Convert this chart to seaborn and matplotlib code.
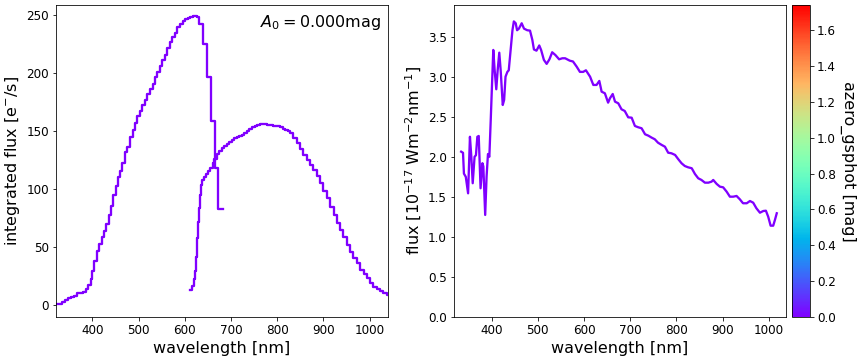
import numpy as np
import pandas as pd
import matplotlib
matplotlib.use("Agg")
import matplotlib.pyplot as plt
import seaborn as sns
from matplotlib.colors import Normalize
from matplotlib.cm import ScalarMappable

# ---------------- data ----------------
azero = 0.0
azero_max = 1.74

bp_edges = [321, 329, 334, 340, 347, 353, 360, 366, 373, 380,
            386, 391, 396, 400, 404, 409, 414, 420, 425, 430,
            435, 440, 445, 450, 455, 460, 465, 470, 475, 481,
            487, 492, 497, 503, 508, 514, 519, 524, 530, 535,
            540, 546, 551, 557, 562, 568, 573, 579, 584, 590,
            595, 600, 606, 611, 617, 622, 627, 630, 639, 647,
            656, 665, 672, 682]
bp_flux = [1.0, 1.5, 3.0, 5.0, 6.0, 7.0, 8.5, 10.3, 11.0, 11.5,
           13.8, 17.5, 23, 30, 38, 47, 53, 59, 64, 70,
           78, 86, 95, 103, 111, 116, 123, 132, 137, 145,
           151, 157, 163, 168, 173, 177, 182, 187, 191, 197,
           201, 206, 212, 216, 222, 227, 231, 235, 240, 243,
           245, 247, 248, 249, 249.5, 249.5, 248.3, 243, 225.6, 196.5,
           158.6, 118.3, 83.2]

rp_edges = [611, 615, 619, 622, 625, 627, 629, 631, 633, 636,
            638, 642, 646, 651, 655, 660, 664, 669, 674, 680,
            685, 691, 696, 702, 707, 713, 718, 724, 729, 735,
            740, 746, 751, 757, 762, 768, 773, 779, 784, 790,
            795, 801, 806, 812, 817, 823, 828, 835, 842, 849,
            857, 864, 871, 878, 886, 893, 900, 907, 914, 922,
            929, 936, 943, 951, 958, 965, 972, 979, 987, 994,
            1001, 1008, 1016, 1023, 1030, 1037, 1040]
rp_flux = [13, 17, 23, 30, 42, 58, 72, 84, 95, 104,
           108, 111, 113, 115.5, 118.5, 122.5, 126.5, 130.5, 133, 135.5,
           137.5, 139.5, 141, 142.5, 144, 145.5, 146, 147, 149, 150.5,
           152, 153.5, 154.5, 155.5, 156, 156.3, 156.3, 155.5, 155.3, 155,
           154.8, 154.3, 153.5, 152.5, 151.3, 150, 148.3, 144, 139.7, 134.5,
           129.6, 125.3, 121, 116.6, 111.5, 105.2, 98.8, 92.2, 85, 77.8,
           70.7, 64.9, 58.6, 52, 46.2, 40.5, 36.2, 30.4, 27, 23.3,
           19.5, 16, 14.1, 12.3, 10.3, 8.9]

spec_wl = [334, 338, 340, 344, 349, 353, 356, 359, 363, 366,
           369, 372, 376, 380, 382, 386, 389, 392, 395, 398,
           403.5, 406.5, 410, 413, 416.5, 419.5, 424, 427, 430, 434,
           437, 441, 445, 448, 452, 455, 459, 465, 470, 477,
           483, 488, 491.5, 497, 503, 507, 513, 519, 525, 531,
           538, 546, 553, 559, 569, 576, 584, 591, 598, 604,
           613, 620, 627, 633, 638, 645, 652, 656, 662, 667,
           674, 681, 688, 695.5, 703, 710, 717, 724.5, 732, 739,
           746, 753, 760, 768, 775, 782, 789, 797, 804, 811, 818,
           825, 833, 840, 847, 854, 861.5, 869, 876, 879.5, 887,
           894, 901, 908.5, 915.6, 922.7, 930, 937, 944, 952, 959,
           966, 973, 980.6, 987.7, 993.5, 998.5, 1003.7, 1009.3, 1013, 1017]
spec_flux = [2.064, 2.05, 1.79, 1.75, 1.544, 2.25, 2.0, 1.67, 2.0, 2.02,
             2.25, 2.26, 1.607, 1.92, 1.88, 1.274, 1.752, 2.035, 2.0, 2.46,
             3.334, 3.08, 2.843, 3.08, 3.30, 3.08, 2.647, 2.71, 3.0, 3.06,
             3.08, 3.33, 3.58, 3.69, 3.667, 3.58, 3.60, 3.667, 3.60, 3.58,
             3.575, 3.46, 3.34, 3.325, 3.39, 3.334, 3.21, 3.16, 3.217, 3.305,
             3.27, 3.217, 3.23, 3.23, 3.20, 3.19, 3.125, 3.06, 3.06, 3.08,
             3.0, 2.897, 2.897, 2.947, 2.813, 2.793, 2.676, 2.73, 2.784, 2.688,
             2.668, 2.593, 2.572, 2.493, 2.488, 2.385, 2.369, 2.356, 2.281, 2.264,
             2.24, 2.219, 2.176, 2.148, 2.126, 2.051, 2.044, 2.023, 1.969, 1.919, 1.885,
             1.869, 1.857, 1.785, 1.732, 1.711, 1.677, 1.677, 1.69, 1.711, 1.661,
             1.627, 1.619, 1.565, 1.502, 1.502, 1.511, 1.47, 1.42, 1.42, 1.448,
             1.427, 1.357, 1.302, 1.323, 1.327, 1.252, 1.14, 1.14, 1.211, 1.295]

# ---------------- figure ----------------
fig = plt.figure(figsize=(12, 5), dpi=72)
W, H = 864.0, 360.0
ax1 = fig.add_axes([56 / W, 43 / H, 332 / W, 312 / H])
ax2 = fig.add_axes([454 / W, 43 / H, 332 / W, 312 / H])
cax = fig.add_axes([792 / W, 43 / H, 18 / W, 312 / H])

cmap = plt.get_cmap("rainbow")
norm = Normalize(vmin=0.0, vmax=azero_max)
color = cmap(norm(azero))

bp_df = pd.DataFrame({"wl": bp_edges, "flux": bp_flux + [bp_flux[-1]]})
rp_df = pd.DataFrame({"wl": rp_edges, "flux": rp_flux + [rp_flux[-1]]})
spec_df = pd.DataFrame({"wl": spec_wl, "flux": spec_flux})

sns.lineplot(data=bp_df, x="wl", y="flux", ax=ax1, color=color, lw=2.3,
             drawstyle="steps-post", estimator=None)
sns.lineplot(data=rp_df, x="wl", y="flux", ax=ax1, color=color, lw=2.3,
             drawstyle="steps-post", estimator=None)
ax1.set_xlim(321, 1040)
ax1.set_ylim(-10, 259)
ax1.set_xlabel("wavelength [nm]", fontsize=16)
ax1.set_ylabel(r"integrated flux [e$^{-}$/s]", fontsize=16)
ax1.tick_params(labelsize=12)
ax1.text(0.98, 0.975, r"$A_0 = 0.000$mag", transform=ax1.transAxes,
         ha="right", va="top", fontsize=16)

sns.lineplot(data=spec_df, x="wl", y="flux", ax=ax2, color=color, lw=2.3,
             estimator=None)
ax2.set_xlim(318.5, 1037)
ax2.set_ylim(0, 3.895)
ax2.set_xlabel("wavelength [nm]", fontsize=16)
ax2.set_ylabel(r"flux [10$^{-17}$ Wm$^{-2}$nm$^{-1}$]", fontsize=16)
ax2.tick_params(labelsize=12)

sm = ScalarMappable(norm=norm, cmap=cmap)
sm.set_array([])
cbar = fig.colorbar(sm, cax=cax)
cbar.ax.tick_params(labelsize=12)
cbar.set_label("azero_gsphot [mag]", rotation=270, labelpad=20, fontsize=16)

fig.savefig("out.png", dpi=72)
